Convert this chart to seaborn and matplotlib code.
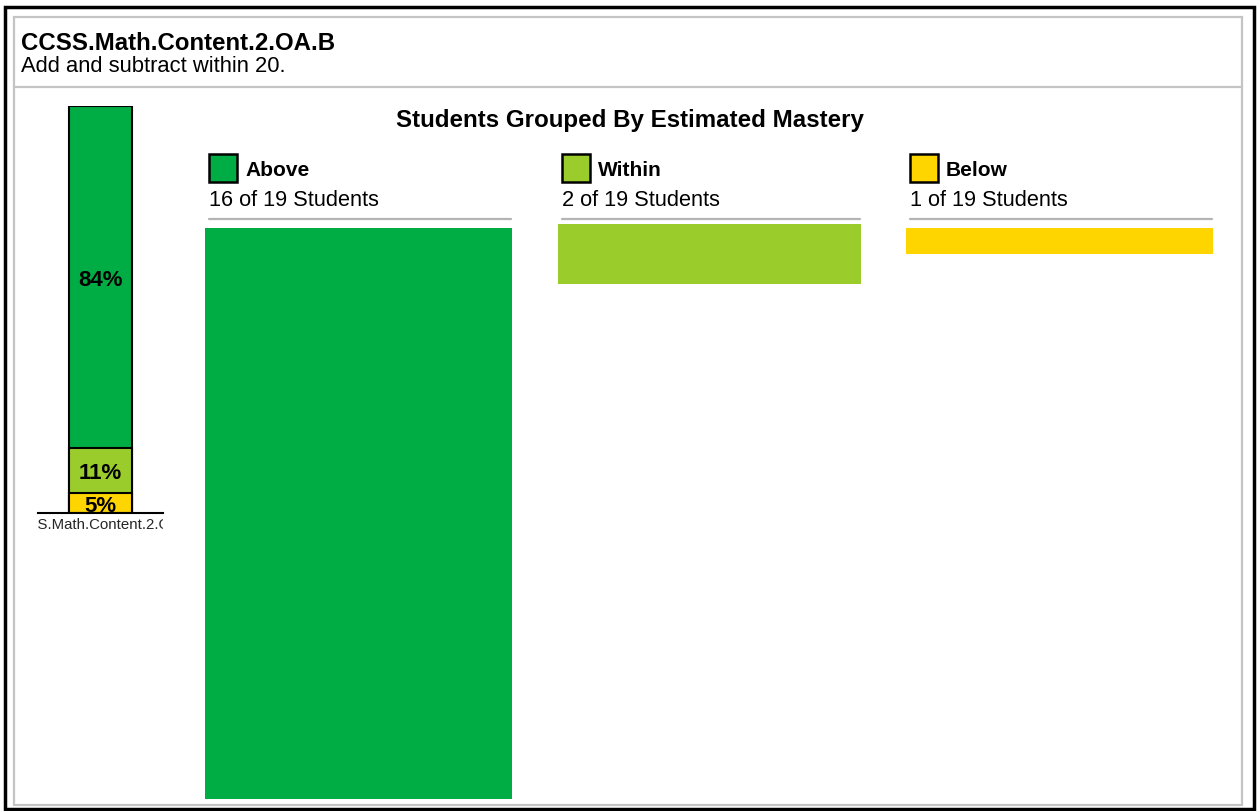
import matplotlib
matplotlib.use("Agg")
import matplotlib.pyplot as plt
from matplotlib.lines import Line2D
from matplotlib.patches import Rectangle
from matplotlib.transforms import Bbox
import seaborn as sns

# ---- data -------------------------------------------------------------
standard_code = "CCSS.Math.Content.2.OA.B"
standard_desc = "Add and subtract within 20."
chart_title = "Students Grouped By Estimated Mastery"
levels = ["Above", "Within", "Below"]
counts = [16, 2, 1]
total_students = 19
percents = [84, 11, 5]
level_colors = ["#00AD45", "#9ACD2B", "#FFD500"]

# ---- figure setup -----------------------------------------------------
sns.set_theme(style="white")
plt.rcParams["font.family"] = ["Liberation Sans", "DejaVu Sans"]

W, H = 1257, 812
fig = plt.figure(figsize=(W / 100, H / 100), dpi=100)
fig.patch.set_facecolor("white")


def fx(x):
    return x / W


def fy(y):
    return 1 - y / H


def add_axes_px(x0, y0, x1, y1):
    return fig.add_axes([fx(x0), fy(y1), fx(x1) - fx(x0), fy(y0) - fy(y1)])


# frames
fig.add_artist(Rectangle((fx(5), fy(810)), fx(1254) - fx(5), fy(8) - fy(810),
                         transform=fig.transFigure, fill=False,
                         edgecolor="black", linewidth=2.5))
fig.add_artist(Rectangle((fx(14), fy(806)), fx(1242) - fx(14), fy(18) - fy(806),
                         transform=fig.transFigure, fill=False,
                         edgecolor="#c4c4c4", linewidth=1.6))
fig.add_artist(Line2D([fx(14), fx(1242)], [fy(88), fy(88)],
                      transform=fig.transFigure, color="#c4c4c4", linewidth=1.6))

# header
fig.text(fx(21), fy(43), standard_code, fontsize=17.3, fontweight="bold",
         ha="left", va="center", color="black")
fig.text(fx(21), fy(67), standard_desc, fontsize=15.8,
         ha="left", va="center", color="black")

# ---- stacked percentage bar ------------------------------------------
ax_s = add_axes_px(38, 107, 163, 514)
cum = []
running = 0
for p in reversed(percents):
    running += p
    cum.append(running)
cum = list(reversed(cum))  # Above -> 100, Within -> 16, Below -> 5
for c, col in zip(cum, level_colors):
    sns.barplot(x=[standard_code], y=[c], color=col, saturation=1,
                edgecolor="black", linewidth=1.5, width=0.504, ax=ax_s)
ax_s.set_ylim(0, 100)
ax_s.set_xlim(-0.5, 0.5)
ax_s.set_ylabel("")
ax_s.set_yticks([])
for side in ["top", "left", "right"]:
    ax_s.spines[side].set_visible(False)
ax_s.spines["bottom"].set_color("black")
ax_s.spines["bottom"].set_linewidth(1.5)
ax_s.tick_params(axis="x", length=0, pad=3, labelsize=10.8)
ax_s.set_facecolor("none")
for lab in ax_s.get_xticklabels():
    lab.set_clip_on(True)
    lab.set_clip_box(Bbox.from_extents(38, 0, 163, H))

for c, p in zip(cum, percents):
    mid = c - p / 2
    ax_s.text(0, mid - 0.6, f"{p}%", ha="center", va="center", fontsize=16,
              fontweight="bold", color="black")

# ---- grouped panels ---------------------------------------------------
fig.text(fx(630), fy(120), chart_title, fontsize=17.4, fontweight="bold",
         ha="center", va="center", color="black")

panel_x = [(205, 512), (558, 861), (906, 1213)]
panel_top = [229, 225, 229]
panel_scale = [16, 19.2, 22]
for i, (lvl, n, col) in enumerate(zip(levels, counts, level_colors)):
    x0, x1 = panel_x[i]
    lx = x0 + 4
    # legend swatch and labels
    fig.add_artist(Rectangle((fx(lx), fy(183)), fx(28), fy(155) - fy(183),
                             transform=fig.transFigure, facecolor=col,
                             edgecolor="black", linewidth=1.8))
    fig.text(fx(lx + 36), fy(170), lvl, fontsize=15, fontweight="bold",
             ha="left", va="center", color="black")
    fig.text(fx(lx), fy(200), f"{n} of {total_students} Students", fontsize=15.7,
             ha="left", va="center", color="black")
    fig.add_artist(Line2D([fx(lx), fx(x1 - 1)], [fy(220), fy(220)],
                          transform=fig.transFigure, color="#b4b4b4",
                          linewidth=1.6))
    ax = add_axes_px(x0, panel_top[i], x1, 800)
    sns.barplot(x=[lvl], y=[n], color=col, saturation=1, width=1,
                linewidth=0, ax=ax)
    ax.set_xlim(-0.5, 0.5)
    ax.set_ylim(panel_scale[i], 0)
    ax.axis("off")

fig.savefig("out.png", dpi=100, facecolor="white")
